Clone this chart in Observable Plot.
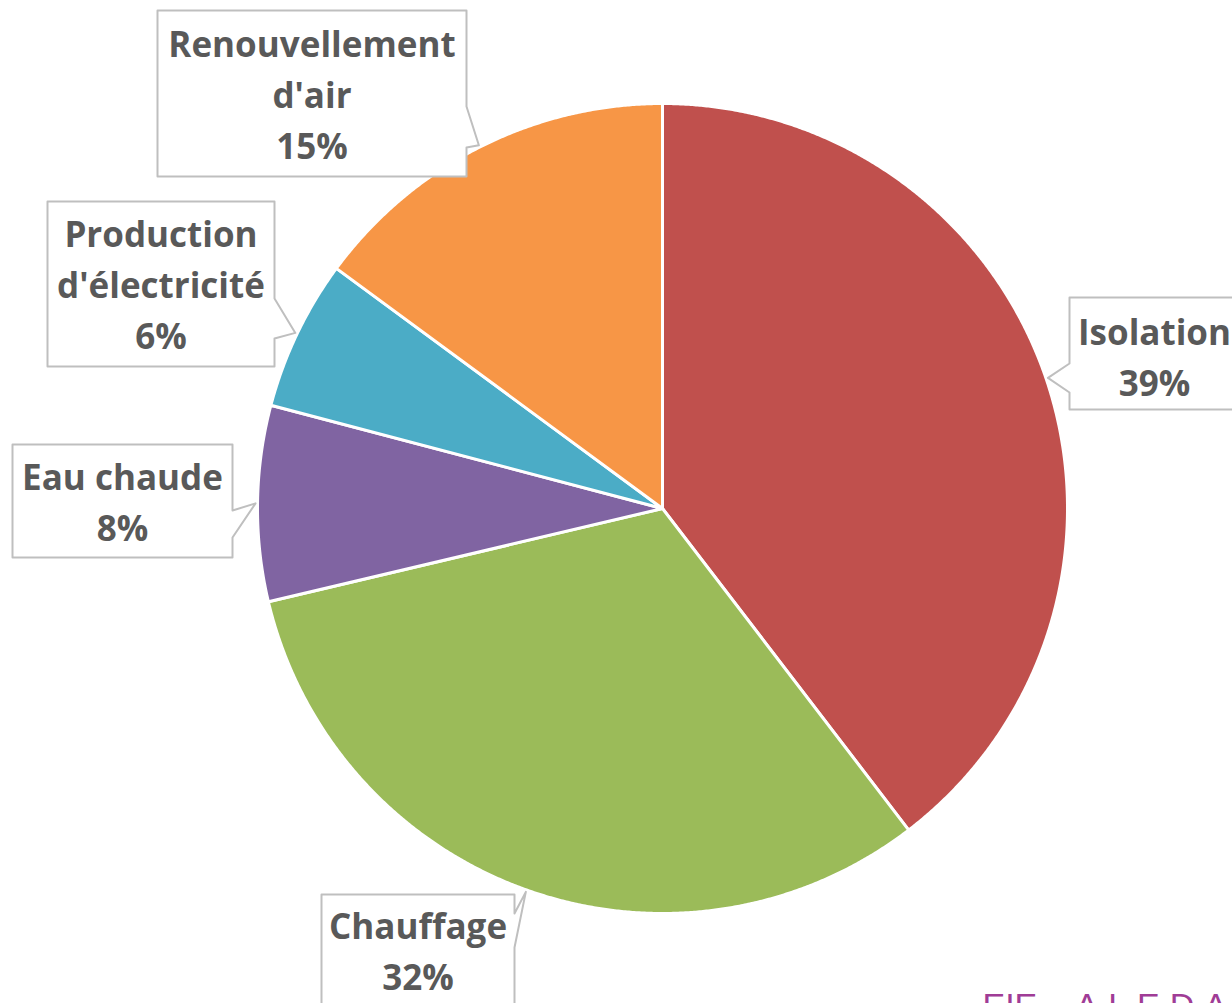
<!DOCTYPE html>
<html><head><meta charset="utf-8">
<script src="https://cdn.jsdelivr.net/npm/d3@7"></script>
<script src="https://cdn.jsdelivr.net/npm/@observablehq/plot@0.6"></script>
<style>html,body{margin:0;padding:0;background:#fff;overflow:hidden}</style>
</head><body><div id="chart"></div>
<script>
// ---- data ----
const categories = ["Isolation", "Chauffage", "Eau chaude", "Production d'électricité", "Renouvellement d'air"];
const values = [39.6, 31.7, 7.8, 6.0, 14.9];
const percentLabels = ["39%", "32%", "8%", "6%", "15%"];
const labelLines = [["Isolation"], ["Chauffage"], ["Eau chaude"], ["Production", "d'électricité"], ["Renouvellement", "d'air"]];
const colors = ["#C0504D", "#9BBB59", "#8064A2", "#4BACC6", "#F79646"];
const footerWords = ["EIE", "ALEDA"];

// ---- layout ----
const W = 1232, H = 1003;
const cx = 662, cy = 508, R = 405;
const boxes = [
  {x0: 1069, y0: 297, x1: 1240, y1: 409, side: "left",  b0: 363, b1: 392, textTop: 308},
  {x0: 321,  y0: 894, x1: 514,  y1: 1012, side: "right", b0: 913, b1: 947, textTop: 902},
  {x0: 12,   y0: 444, x1: 232,  y1: 557, side: "right", b0: 510, b1: 537, textTop: 453},
  {x0: 47,   y0: 201, x1: 274,  y1: 366, side: "right", b0: 298, b1: 338, textTop: 210},
  {x0: 157,  y0: 10,  x1: 466,  y1: 176, side: "right", b0: 106, b1: 147, textTop: 20}
];

const total = d3.sum(values);
let acc = 0;
const slices = categories.map((c, i) => {
  const a0 = acc / total * 2 * Math.PI; acc += values[i];
  const a1 = acc / total * 2 * Math.PI;
  return {category: c, a0, a1, mid: (a0 + a1) / 2, i};
});
const slicePts = slices.flatMap(s => {
  const n = Math.max(2, Math.ceil((s.a1 - s.a0) / (Math.PI / 720)));
  const pts = [{category: s.category, x: cx, y: cy}];
  for (let k = 0; k <= n; k++) {
    const a = s.a0 + (s.a1 - s.a0) * k / n;
    pts.push({category: s.category, x: cx + R * Math.sin(a), y: cy - R * Math.cos(a)});
  }
  pts.push({category: s.category, x: cx, y: cy});
  return pts;
});

const calloutPts = slices.flatMap(s => {
  const b = boxes[s.i];
  const tip = [cx + (R + 2) * Math.sin(s.mid), cy - (R + 2) * Math.cos(s.mid)];
  let p;
  if (b.side === "right") {
    p = [[b.x0, b.y0], [b.x1, b.y0], [b.x1, b.b0], tip, [b.x1, b.b1], [b.x1, b.y1], [b.x0, b.y1], [b.x0, b.y0]];
  } else {
    p = [[b.x0, b.y0], [b.x1, b.y0], [b.x1, b.y1], [b.x0, b.y1], [b.x0, b.b1], tip, [b.x0, b.b0], [b.x0, b.y0]];
  }
  return p.map(([x, y]) => ({id: s.category, x, y}));
});

const labelData = slices.map(s => {
  const b = boxes[s.i];
  return {x: (b.x0 + (s.i === 0 ? 1239 : b.x1)) / 2, y: b.textTop, text: [...labelLines[s.i], percentLabels[s.i]].join("\n")};
});

const footerData = [
  {x: 982, y: 992, text: footerWords[0]},
  {x: 1075, y: 992, text: footerWords[1]}
];

const chart = Plot.plot({
  width: W, height: H, margin: 0,
  x: {domain: [0, W], range: [0, W], axis: null},
  y: {domain: [0, H], range: [0, H], axis: null},
  color: {domain: categories, range: colors},
  style: {background: "white", overflow: "hidden"},
  marks: [
    Plot.line(slicePts, {x: "x", y: "y", z: "category", fill: "category", stroke: "white", strokeWidth: 3, strokeLinejoin: "round"}),
    Plot.line(calloutPts, {x: "x", y: "y", z: "id", fill: "white", stroke: "#BFBFBF", strokeWidth: 2}),
    Plot.text(labelData, {x: "x", y: "y", text: "text", fontSize: 35, fontWeight: 700, fontFamily: "'Open Sans'", fill: "#595959", lineAnchor: "top", lineHeight: 1.46, textAnchor: "middle"}),
    Plot.text(footerData, {x: "x", y: "y", text: "text", fontSize: 34, fontFamily: "'Liberation Sans'", fill: "#A03C96", lineAnchor: "top", textAnchor: "start"})
  ]
});
d3.select(chart).selectAll("text").filter(function() { return this.textContent === "ALEDA"; }).attr("letter-spacing", 10);
document.getElementById("chart").appendChild(chart);
</script>
</body></html>
